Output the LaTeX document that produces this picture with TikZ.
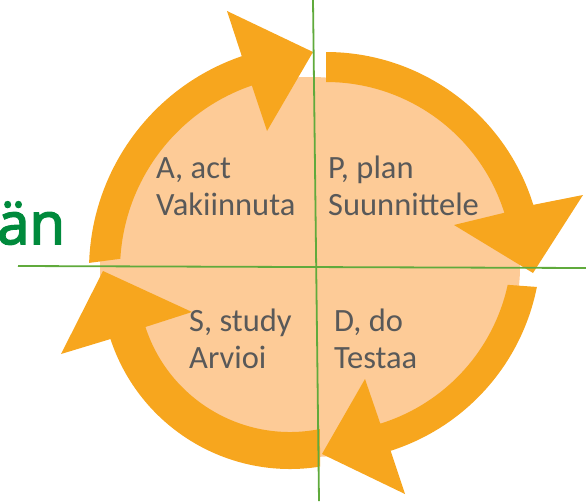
\documentclass[tikz,border=0pt]{standalone}
\usepackage{fontspec}
\setmainfont{Carlito}
\newfontfamily\titlefont[FakeBold=3]{Open Sans}
\usepackage{tikz}
\definecolor{arroworange}{RGB}{247, 166, 30}
\definecolor{peach}{RGB}{253, 203, 151}
\definecolor{axisgreen}{RGB}{96, 170, 60}
\definecolor{titlegreen}{RGB}{0, 138, 60}
\definecolor{labelgray}{RGB}{89, 89, 89}
\usetikzlibrary{calc}

\begin{document}
\begin{tikzpicture}[
    x=1pt, y=-1pt,
    cyclearrow/.style={fill=arroworange},
    quarter/.style={anchor=base west, align=left, inner sep=0pt, text=labelgray,
                    font=\fontsize{32.5}{37}\selectfont},
    axis/.style={draw=axisgreen, line width=1.8pt}
]
    \useasboundingbox (0,0) rectangle (586,501);

    % Disc
    \fill[peach] (310,267) ellipse [x radius=210, y radius=190];

    % Arc centres
    \coordinate (cA) at (315,270);
    \coordinate (cP) at (326,269);
    \coordinate (cD) at (325,245);
    \coordinate (cS) at (290,280);

    % Arrows
    \fill[cyclearrow] ($(cA)+(181.8:226)$) arc[start angle=181.8, end angle=251.1, radius=226]
        -- (227,11) -- (313,52) -- (267,131)
        -- ($(cA)+(251.1:195)$) arc[start angle=251.1, end angle=183.3, radius=195] -- cycle;
    \fill[cyclearrow] ($(cP)+(270:217)$) arc[start angle=270, end angle=342.8, radius=217]
        -- (583,195) -- (533,273) -- (454,225)
        -- ($(cP)+(342.5:187)$) arc[start angle=342.5, end angle=270, radius=187] -- cycle;
    \fill[cyclearrow] ($(cD)+(11.2:216)$) arc[start angle=11.2, end angle=72.3, radius=216]
        -- (405,494) -- (322,454) -- (365,379)
        -- ($(cD)+(72.8:187)$) arc[start angle=72.8, end angle=12.3, radius=187] -- cycle;
    \fill[cyclearrow] ($(cS)+(80.8:189)$) arc[start angle=80.8, end angle=161.8, radius=189]
        -- (61,354) -- (103,271) -- (192,312)
        -- ($(cS)+(162:152)$) arc[start angle=162, end angle=78.7, radius=152] -- cycle;

    % Labels
    \node[quarter] (act) at (156,215) {A, act\\Vakiinnuta};
    \node[quarter] (plan) at (328,215) {P, plan\\Suunnittele};
    \node[quarter] (study) at (189,368) {S, study\\Arvioi};
    \node[quarter] (do) at (334,368) {D, do\\Testaa};

    % Axes
    \coordinate (vtop) at (313,0);
    \coordinate (vbottom) at (319,501);
    \coordinate (hleft) at (18,266);
    \coordinate (hright) at (586,268);
    \draw[axis] (vtop) -- (vbottom);
    \draw[axis] (hleft) -- (hright);

    % Title fragment
    \node[anchor=base west, inner sep=0pt, text=titlegreen,
          font=\titlefont\fontsize{58}{58}\selectfont] (title) at (-3,244) {än};
\end{tikzpicture}
\end{document}
